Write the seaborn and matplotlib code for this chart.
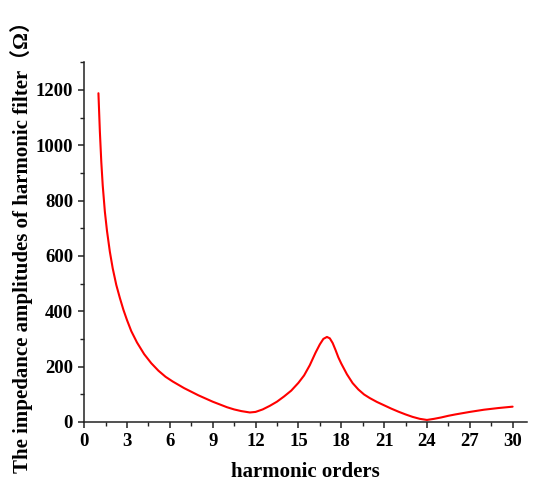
import numpy as np
import pandas as pd
import seaborn as sns
import matplotlib
matplotlib.use('Agg')
import matplotlib.pyplot as plt
from matplotlib.ticker import MultipleLocator

# values
harmonic_order = [1.0, 1.1, 1.2, 1.3, 1.45, 1.6, 1.8, 2.0, 2.25, 2.5, 2.75, 3.0,
                  3.3, 3.7, 4.2, 4.7, 5.2, 5.7, 6.2, 7.0, 8.0, 9.0, 10.0, 10.5,
                  11.0, 11.6, 12.0, 12.5, 13.0, 13.5, 14.0, 14.5, 15.0, 15.4,
                  15.8, 16.2, 16.5, 16.75, 17.0, 17.2, 17.4, 17.6, 17.8, 18.0,
                  18.4, 18.8, 19.2, 19.6, 20.0, 20.5, 21.0, 21.5, 22.0, 22.5,
                  23.0, 23.5, 24.0, 24.5, 25.0, 25.5, 26.0, 27.0, 28.0, 29.0, 30.0]
impedance = [1188, 1050, 940, 855, 760, 690, 615, 555, 495, 448, 405, 368,
             328, 287, 245, 212, 185, 163, 146, 122, 96, 73, 53, 45,
             39, 34, 36, 45, 58, 73, 92, 113, 141, 168,
             205, 250, 280, 300, 307, 302, 285, 260, 233, 211,
             172, 140, 117, 99, 86, 72, 60, 48, 37, 27,
             18, 11, 7, 11, 16, 22, 27, 36, 44, 50, 55]

df = pd.DataFrame({'order': harmonic_order, 'Z': impedance})

sns.set_style('ticks')
plt.rcParams['font.family'] = ['Liberation Serif', 'Noto Sans CJK SC']
plt.rcParams['font.weight'] = 'bold'
plt.rcParams['text.color'] = 'black'
plt.rcParams['axes.labelcolor'] = 'black'
plt.rcParams['xtick.color'] = 'black'
plt.rcParams['ytick.color'] = 'black'

fig = plt.figure(figsize=(5.5, 4.94), dpi=100)
ax = fig.add_axes([0.153, 0.146, 0.805, 0.728])

sns.lineplot(data=df, x='order', y='Z', ax=ax, color='#ff0000', linewidth=1.5)

ax.set_xlim(0, 31)
ax.set_ylim(0, 1300)
ax.xaxis.set_major_locator(MultipleLocator(3))
ax.xaxis.set_minor_locator(MultipleLocator(1.5))
ax.yaxis.set_major_locator(MultipleLocator(200))
ax.yaxis.set_minor_locator(MultipleLocator(100))
ax.set_yticks(np.arange(0, 1201, 200))

ax.tick_params(which='major', direction='out', length=4.5, width=1.1,
               labelsize=13.5, pad=3.5, color='#222222', labelcolor='black')
ax.tick_params(which='minor', direction='out', length=2.8, width=1.0, color='#222222')
for lbl in ax.get_xticklabels() + ax.get_yticklabels():
    lbl.set_fontweight('bold')

sns.despine(ax=ax)
for s in ['left', 'bottom']:
    ax.spines[s].set_linewidth(1.1)
    ax.spines[s].set_color('#222222')

ax.set_xlabel('harmonic orders', fontsize=15, fontweight='bold', labelpad=9)
ax.set_ylabel('The impedance amplitudes of harmonic filter（Ω）', fontsize=15,
              fontweight='bold', labelpad=2)

fig.savefig('out.png', dpi=100)
